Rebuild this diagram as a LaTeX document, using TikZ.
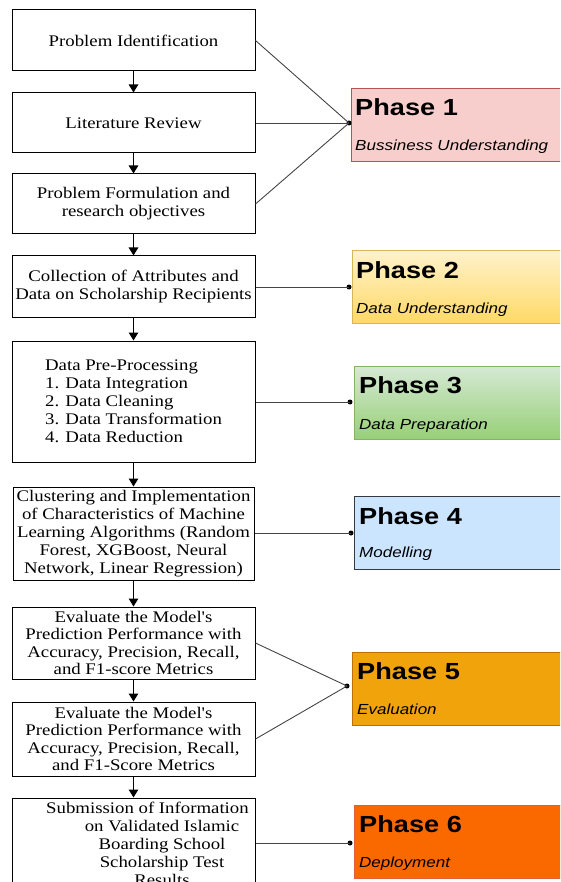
\documentclass[tikz,border=0pt]{standalone}
\usepackage{fontspec}
\setmainfont{Liberation Serif}[FakeStretch=1.16, Ligatures=TeXOff]
\newfontfamily\phfont{Liberation Sans}[FakeStretch=1.166]
\usetikzlibrary{arrows.meta}
\definecolor{ponefill}{HTML}{F8CECC}
\definecolor{poneline}{HTML}{B85450}
\definecolor{ptwotop}{HTML}{FFF2CC}
\definecolor{ptwobot}{HTML}{FFD966}
\definecolor{ptwoline}{HTML}{D6B656}
\definecolor{pthreetop}{HTML}{D5E8D4}
\definecolor{pthreebot}{HTML}{97D077}
\definecolor{pthreeline}{HTML}{82B366}
\definecolor{pfourfill}{HTML}{CCE5FF}
\definecolor{pfourline}{HTML}{36393D}
\definecolor{pfivefill}{HTML}{F0A30A}
\definecolor{pfiveline}{HTML}{BD7000}
\definecolor{psixfill}{HTML}{FA6800}
\definecolor{psixline}{HTML}{E0603A}
\definecolor{connc}{HTML}{444444}
\tikzset{
  stepbox/.style={draw=black, line width=1pt, fill=white, minimum width=243pt,
    inner sep=0pt, align=center, font=\fontsize{16.2}{18}\selectfont},
  phasebox/.style={line width=0.9pt, minimum width=230pt, minimum height=73pt,
    anchor=north west, inner sep=0pt},
  phtitle/.style={anchor=base west, inner sep=0pt, font=\phfont\bfseries\fontsize{23.3}{26}\selectfont},
  phsub/.style={anchor=base west, inner sep=0pt, font=\phfont\itshape\fontsize{14.6}{17}\selectfont},
  conn/.style={draw=connc, line width=0.9pt},
  arr/.style={draw=black, line width=1.2pt, -{Triangle[width=9.5pt,length=8pt]}},
  dotn/.style={circle, fill=black, inner sep=0pt, minimum size=5pt}
}
\begin{document}
\begin{tikzpicture}[x=1pt,y=-1pt]
\useasboundingbox (0,0) rectangle (560,882);
\clip (0,0) rectangle (560,882);

% left process boxes
\node[stepbox, minimum height=61pt] (b1) at (133.5,40.5) {Problem Identification};
\node[stepbox, minimum height=60pt] (b2) at (133.5,123) {Literature Review};
\node[stepbox, minimum height=60pt] (b3) at (133.5,204) {Problem Formulation and\\research objectives};
\node[stepbox, minimum height=61pt] (b4) at (133.5,286.5) {Collection of Attributes and\\Data on Scholarship Recipients};
\node[stepbox, minimum height=121pt, align=left] (b5) at (133.5,401.5) {Data Pre-Processing\\1. Data Integration\\2. Data Cleaning\\3. Data Transformation\\4. Data Reduction};
\node[stepbox, minimum height=93pt, minimum width=241pt] (b6) at (133.5,533.5) {Clustering and Implementation\\of Characteristics of Machine\\Learning Algorithms (Random\\Forest, XGBoost, Neural\\Network, Linear Regression)};
\node[stepbox, minimum height=72pt, font=\fontsize{16.2}{17.5}\selectfont] (b7) at (133.5,643) {Evaluate the Model's\\Prediction Performance with\\Accuracy, Precision, Recall,\\and F1-score Metrics};
\node[stepbox, minimum height=74pt, font=\fontsize{16.2}{17.3}\selectfont] (b8) at (133.5,739) {Evaluate the Model's\\Prediction Performance with\\Accuracy, Precision, Recall,\\and F1-Score Metrics};
\node[stepbox, minimum height=100pt] (b9) at (133.5,848) {};
\node[inner sep=0pt, align=center, anchor=north, font=\fontsize{16.2}{18.2}\selectfont] (b9t) at (162,801.5) {Submission of Information\kern29pt\\on Validated Islamic\\Boarding School\\Scholarship Test\\Results};

% arrows
\draw[arr] (b1.south) -- (b2.north);
\draw[arr] (b2.south) -- (b3.north);
\draw[arr] (b3.south) -- (b4.north);
\draw[arr] (b4.south) -- (b5.north);
\draw[arr] (b5.south) -- (b6.north);
\draw[arr] (b6.south) -- (b7.north);
\draw[arr] (b7.south) -- (b8.north);
\draw[arr] (b8.south) -- (b9.north);

% phase boxes
\node[phasebox, draw=poneline, fill=ponefill] (p1) at (351,88) {};
\node[phasebox, draw=ptwoline, top color=ptwotop, bottom color=ptwobot] (p2) at (352,250) {};
\node[phasebox, draw=pthreeline, top color=pthreetop, bottom color=pthreebot] (p3) at (354,366) {};
\node[phasebox, draw=pfourline, fill=pfourfill] (p4) at (354,496) {};
\node[phasebox, draw=pfiveline, fill=pfivefill] (p5) at (352,652) {};
\node[phasebox, draw=psixline, fill=psixfill] (p6) at (354,805) {};

\node[phtitle] (p1t) at (355,116) {Phase 1};
\node[phsub] (p1s) at (355,151) {Bussiness Understanding};
\node[phtitle] (p2t) at (356,278.3) {Phase 2};
\node[phsub] (p2s) at (356,313) {Data Understanding};
\node[phtitle] (p3t) at (359,393.3) {Phase 3};
\node[phsub] (p3s) at (359,429) {Data Preparation};
\node[phtitle] (p4t) at (359,524.3) {Phase 4};
\node[phsub] (p4s) at (359,557.7) {Modelling};
\node[phtitle] (p5t) at (357,679.3) {Phase 5};
\node[phsub] (p5s) at (357,714) {Evaluation};
\node[phtitle] (p6t) at (359,832.7) {Phase 6};
\node[phsub] (p6s) at (359,867.7) {Deployment};

% dots
\node[dotn] (d1) at (349,123) {};
\node[dotn] (d2) at (349,287) {};
\node[dotn] (d3) at (350,402) {};
\node[dotn] (d4) at (351,533) {};
\node[dotn] (d5) at (347,686) {};
\node[dotn] (d6) at (350,843) {};

% connectors
\draw[conn] (b1.east) -- (d1.center);
\draw[conn] (b2.east) -- (d1.center);
\draw[conn] (b3.east) -- (d1.center);
\draw[conn] (b4.east |- d2) -- (d2.center);
\draw[conn] (b5.east |- d3) -- (d3.center);
\draw[conn] (b6.east |- d4) -- (d4.center);
\draw[conn] (b7.east) -- (d5.center);
\draw[conn] (b8.east) -- (d5.center);
\draw[conn] (b9.east |- d6) -- (d6.center);
\end{tikzpicture}
\end{document}
